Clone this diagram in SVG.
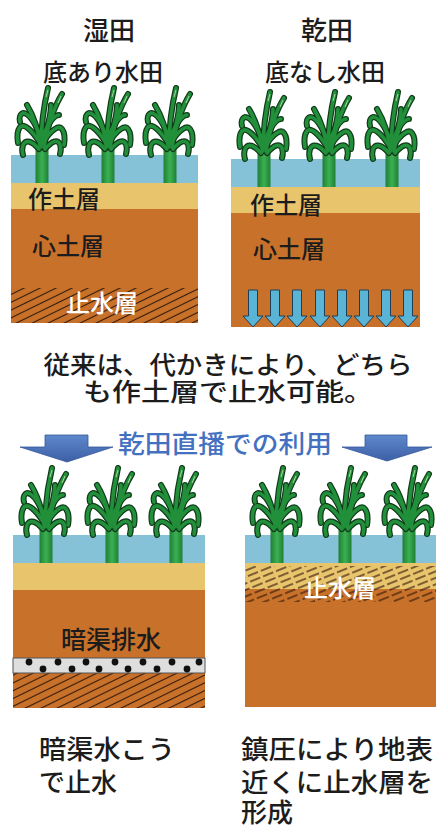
<svg xmlns="http://www.w3.org/2000/svg" width="436" height="827" viewBox="0 0 436 827">
  <defs>
    <style>
      .t { font-family: "Noto Sans CJK JP", "Noto Sans", sans-serif; font-weight: 500; fill: #1c1c1c; }
      .w { font-family: "Noto Sans CJK JP", "Noto Sans", sans-serif; font-weight: 500; fill: #ffffff; }
      .b { font-family: "Noto Sans CJK JP", "Noto Sans", sans-serif; font-weight: 500; fill: #4470c0; }
      .water { fill: #86c2d7; }
      .topsoil { fill: #e8c46c; }
      .subsoil { fill: #c8712a; }
      .leafo { fill: none; stroke: #103a1a; stroke-width: 6; stroke-linecap: round; stroke-linejoin: round; }
      .leafi { fill: none; stroke: #22903a; stroke-width: 3.6; stroke-linecap: round; stroke-linejoin: round; }
      .drain { fill: #5ab4d6; stroke: #1e3f55; stroke-width: 1; }
    </style>
    <pattern id="hatch" width="7" height="7" patternUnits="userSpaceOnUse" patternTransform="rotate(-26)">
      <line x1="0" y1="3.5" x2="7" y2="3.5" stroke="#33190a" stroke-width="1.1"/>
    </pattern>
    <pattern id="hatchBroken" width="14" height="6" patternUnits="userSpaceOnUse" patternTransform="rotate(-22)">
      <line x1="0" y1="3" x2="11" y2="3" stroke="#33190a" stroke-width="1.2"/>
    </pattern>
    <linearGradient id="bigArrow" x1="0" y1="0" x2="0" y2="1">
      <stop offset="0" stop-color="#5f88cc"/>
      <stop offset="1" stop-color="#3c5fa5"/>
    </linearGradient>
    <linearGradient id="stemFill" x1="0" y1="0" x2="1" y2="0">
      <stop offset="0" stop-color="#1f7f35"/>
      <stop offset="0.5" stop-color="#3bb152"/>
      <stop offset="1" stop-color="#1f7f35"/>
    </linearGradient>
    <!-- rice plant, origin = stem centre at the water surface -->
    <symbol id="plant" overflow="visible">
      <rect x="-6.5" y="-12" width="13" height="40" fill="url(#stemFill)"/>
      <g class="leafo">
        <path d="M -1,-8 C -1,-30 2,-50 6,-67"/>
        <path d="M 2,-8 C 6,-30 12,-48 20,-61"/>
        <path d="M -2,-10 C -4,-28 -9,-40 -15,-50"/>
        <path d="M 0,-12 C 5,-26 9,-38 9,-50"/>
        <path d="M -2,-20 C -8,-34 -14,-42 -19,-42 C -22,-41 -23,-37 -22,-33"/>
        <path d="M 2,-22 C 8,-34 13,-40 17,-40"/>
        <path d="M -2,-12 C -10,-25 -18,-32 -22,-28 C -25,-24 -25,-18 -24,-12"/>
        <path d="M 2,-14 C 10,-26 17,-30 20,-26 C 23,-22 23,-16 22,-10"/>
        <path d="M -3,-6 C -10,-14 -16,-16 -19,-10 C -20,-7 -20,-3 -19,0"/>
        <path d="M 3,-6 C 10,-14 15,-16 18,-11 C 19,-8 19,-4 18,-1"/>
      </g>
      <g class="leafi">
        <path d="M -1,-8 C -1,-30 2,-50 6,-67"/>
        <path d="M 2,-8 C 6,-30 12,-48 20,-61"/>
        <path d="M -2,-10 C -4,-28 -9,-40 -15,-50"/>
        <path d="M 0,-12 C 5,-26 9,-38 9,-50"/>
        <path d="M -2,-20 C -8,-34 -14,-42 -19,-42 C -22,-41 -23,-37 -22,-33"/>
        <path d="M 2,-22 C 8,-34 13,-40 17,-40"/>
        <path d="M -2,-12 C -10,-25 -18,-32 -22,-28 C -25,-24 -25,-18 -24,-12"/>
        <path d="M 2,-14 C 10,-26 17,-30 20,-26 C 23,-22 23,-16 22,-10"/>
        <path d="M -3,-6 C -10,-14 -16,-16 -19,-10 C -20,-7 -20,-3 -19,0"/>
        <path d="M 3,-6 C 10,-14 15,-16 18,-11 C 19,-8 19,-4 18,-1"/>
      </g>
      <path d="M 4,-58 L 6,-65 M 16,-52 L 19,-59" stroke="#a8dca0" stroke-width="1" fill="none"/>
    </symbol>
    <!-- percolation arrow pointing down -->
    <symbol id="down" overflow="visible">
      <path class="drain" d="M -4.5,0 H 4.5 V 26 H 10 L 0,37 L -10,26 H -4.5 Z"/>
    </symbol>
  </defs>

  <rect width="436" height="827" fill="#ffffff"/>

  <!-- wet paddy with impermeable bottom -->
  <g id="wet-paddy">
    <text class="t" x="109" y="40" font-size="26" text-anchor="middle">湿田</text>
    <text class="t" x="103" y="81" font-size="24" text-anchor="middle">底あり水田</text>
    <rect class="water" x="11" y="155" width="187" height="28"/>
    <rect class="topsoil" x="11" y="183" width="187" height="26"/>
    <rect class="subsoil" x="11" y="209" width="187" height="114"/>
    <rect x="11" y="288" width="187" height="35" fill="url(#hatch)"/>
    <use href="#plant" x="42" y="155"/>
    <use href="#plant" x="108" y="155"/>
    <use href="#plant" x="170" y="155"/>
    <text class="t" x="64" y="208" font-size="24" text-anchor="middle">作土層</text>
    <text class="t" x="68" y="255" font-size="24" text-anchor="middle">心土層</text>
    <text class="w" x="102" y="312" font-size="24" text-anchor="middle">止水層</text>
  </g>

  <!-- dry paddy without impermeable bottom -->
  <g id="dry-paddy">
    <text class="t" x="327" y="40" font-size="26" text-anchor="middle">乾田</text>
    <text class="t" x="325" y="81" font-size="24" text-anchor="middle">底なし水田</text>
    <rect class="water" x="231" y="159" width="189" height="28"/>
    <rect class="topsoil" x="231" y="187" width="189" height="26"/>
    <rect class="subsoil" x="231" y="213" width="189" height="114"/>
    <use href="#plant" x="264" y="159"/>
    <use href="#plant" x="329" y="159"/>
    <use href="#plant" x="392" y="159"/>
    <text class="t" x="286" y="214" font-size="24" text-anchor="middle">作土層</text>
    <text class="t" x="289" y="258" font-size="24" text-anchor="middle">心土層</text>
    <use href="#down" x="253" y="290"/>
    <use href="#down" x="275" y="290"/>
    <use href="#down" x="297" y="290"/>
    <use href="#down" x="320" y="290"/>
    <use href="#down" x="342" y="290"/>
    <use href="#down" x="364" y="290"/>
    <use href="#down" x="386" y="290"/>
    <use href="#down" x="408" y="290"/>
  </g>

  <g id="caption-conventional">
    <text class="t" x="228" y="374" font-size="25" text-anchor="middle" textLength="369" lengthAdjust="spacingAndGlyphs">従来は、代かきにより、どちら</text>
    <text class="t" x="228" y="401" font-size="25" text-anchor="middle" textLength="290" lengthAdjust="spacingAndGlyphs">も作土層で止水可能。</text>
  </g>

  <!-- direct-seeding heading with two down arrows -->
  <g id="heading-direct-seeding">
    <text class="b" x="225" y="453" font-size="25" text-anchor="middle" textLength="214" lengthAdjust="spacingAndGlyphs">乾田直播での利用</text>
  </g>
  <g id="connectors">
    <path d="M 45,435 H 88 V 447 H 113 L 67,462 L 20,447 H 45 Z" fill="url(#bigArrow)" stroke="#35579a" stroke-width="0.8"/>
    <path d="M 365,435 H 407 V 447 H 432 L 387,461 L 342,447 H 365 Z" fill="url(#bigArrow)" stroke="#35579a" stroke-width="0.8"/>
  </g>

  <!-- sealing by subsurface drainage -->
  <g id="drainage-paddy">
    <rect class="water" x="13" y="535" width="192" height="28"/>
    <rect class="topsoil" x="13" y="563" width="192" height="27"/>
    <rect class="subsoil" x="13" y="590" width="192" height="118"/>
    <rect x="13" y="673" width="192" height="35" fill="url(#hatch)"/>
    <rect x="13" y="658" width="192" height="15" fill="#dedede" stroke="#555555" stroke-width="1"/>
    <g fill="#111111">
      <circle cx="29" cy="662" r="3.4"/><circle cx="58" cy="662" r="3.4"/><circle cx="86" cy="662" r="3.4"/>
      <circle cx="115" cy="662" r="3.4"/><circle cx="143" cy="662" r="3.4"/><circle cx="172" cy="662" r="3.4"/>
      <circle cx="199" cy="662" r="3.4"/>
      <circle cx="43" cy="669" r="3.4"/><circle cx="72" cy="669" r="3.4"/><circle cx="99" cy="669" r="3.4"/>
      <circle cx="128" cy="669" r="3.4"/><circle cx="157" cy="669" r="3.4"/><circle cx="187" cy="669" r="3.4"/>
    </g>
    <use href="#plant" x="46" y="535"/>
    <use href="#plant" x="112" y="535"/>
    <use href="#plant" x="176" y="535"/>
    <text class="t" x="111" y="649" font-size="25" text-anchor="middle">暗渠排水</text>
    <text class="t" x="39" y="759" font-size="26" textLength="136" lengthAdjust="spacingAndGlyphs">暗渠水こう</text>
    <text class="t" x="39" y="792" font-size="26">で止水</text>
  </g>

  <!-- sealing by rolling compaction -->
  <g id="compaction-paddy">
    <rect class="water" x="245" y="535" width="191" height="28"/>
    <rect class="topsoil" x="245" y="563" width="191" height="26"/>
    <rect class="subsoil" x="245" y="589" width="191" height="118"/>
    <rect x="245" y="566" width="191" height="36" fill="url(#hatchBroken)"/>
    <use href="#plant" x="277" y="535"/>
    <use href="#plant" x="345" y="535"/>
    <use href="#plant" x="409" y="535"/>
    <text class="w" x="340" y="597" font-size="24" text-anchor="middle">止水層</text>
    <text class="t" x="241" y="759" font-size="26" textLength="192" lengthAdjust="spacingAndGlyphs">鎮圧により地表</text>
    <text class="t" x="241" y="792" font-size="26" textLength="192" lengthAdjust="spacingAndGlyphs">近くに止水層を</text>
    <text class="t" x="241" y="822" font-size="26">形成</text>
  </g>
</svg>
